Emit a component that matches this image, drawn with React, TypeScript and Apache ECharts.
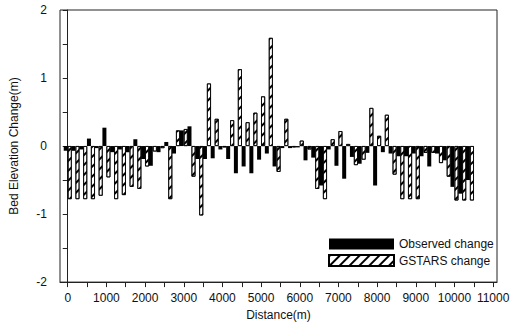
import React, { useEffect, useRef } from "react";
import * as echarts from "echarts";

const distances = [
  0, 200, 400, 600, 800, 1000, 1200, 1400, 1600, 1800,
  2000, 2200, 2400, 2600, 2800, 3000, 3200, 3400, 3600, 3800,
  4000, 4200, 4400, 4600, 4800, 5000, 5200, 5400, 5600, 5800,
  6000, 6200, 6400, 6600, 6800, 7000, 7200, 7400, 7600, 7800,
  8000, 8200, 8400, 8600, 8800, 9000, 9200, 9400, 9600, 9800,
  10000, 10200, 10400,
];

const observedChange = [
  -0.07, -0.07, -0.05, 0.11, -0.03, 0.27, -0.09, -0.05, -0.09, 0.1,
  -0.19, -0.29, -0.09, 0.06, -0.11, 0.23, 0.29, -0.19, -0.19, -0.18,
  -0.05, -0.19, -0.4, -0.3, -0.4, -0.2, -0.11, -0.3, -0.03, -0.03,
  -0.02, -0.21, -0.17, -0.58, -0.05, -0.29, -0.48, -0.16, -0.26, -0.1,
  -0.58, -0.09, -0.11, -0.15, -0.15, -0.11, -0.15, -0.3, -0.11, -0.21,
  -0.6, -0.7, -0.5,
];

const gstarsChange = [
  -0.78, -0.78, -0.78, -0.78, -0.73, -0.46, -0.78, -0.72, -0.6, -0.63,
  -0.3, -0.08, -0.03, -0.78, 0.23, 0.25, -0.45, -1.02, 0.92, 0.4,
  -0.02, 0.38, 1.13, 0.35, 0.49, 0.73, 1.59, -0.38, 0.4, -0.02,
  0.08, -0.05, -0.63, -0.78, 0.1, 0.22, 0.03, -0.28, -0.2, 0.56,
  0.15, 0.46, -0.42, -0.78, -0.78, -0.78, -0.1, -0.1, -0.25, -0.45,
  -0.8, -0.8, -0.8,
];

const xTickValues = [
  0, 500, 1000, 1500, 2000, 2500, 3000, 3500, 4000, 4500, 5000, 5500,
  6000, 6500, 7000, 7500, 8000, 8500, 9000, 9500, 10000, 10500, 11000,
];
const xLabelValues = [0, 1000, 2000, 3000, 4000, 5000, 6000, 7000, 8000, 9000, 10000, 11000];
const yTickValues = [-2, -1.5, -1, -0.5, 0, 0.5, 1, 1.5, 2];
const yLabelValues = [-2, -1, 0, 1, 2];

const FONT = "Liberation Sans";

export default function App() {
  const ref = useRef<HTMLDivElement>(null);

  useEffect(() => {
    const chart = echarts.init(ref.current!, null, { renderer: "svg" });
    const hatch = {
      symbol: "rect",
      symbolSize: 1,
      color: "#000",
      backgroundColor: "#fff",
      dashArrayX: [1, 0],
      dashArrayY: [1.4, 5],
      rotation: -Math.PI / 4,
    };
    chart.setOption({
      animation: false,
      backgroundColor: "#fff",
      textStyle: { fontFamily: FONT },
      grid: {
        left: 59,
        right: 28,
        top: 10,
        bottom: 43,
        show: true,
        borderColor: "#222",
        borderWidth: 1,
        containLabel: false,
      },
      legend: {
        orient: "vertical",
        left: 323,
        top: 233,
        itemWidth: 65,
        itemHeight: 11,
        itemGap: 4,
        icon: "rect",
        textStyle: { fontFamily: FONT, fontSize: 12, color: "#111" },
        data: ["Observed change", "GSTARS change"],
      },
      xAxis: {
        type: "value",
        min: -200,
        max: 11100,
        name: "Distance(m)",
        nameLocation: "middle",
        nameGap: 26,
        nameTextStyle: { fontFamily: FONT, fontSize: 12, color: "#111" },
        axisLine: { onZero: false, lineStyle: { color: "#222", width: 1 } },
        axisTick: {
          show: true,
          length: 5,
          customValues: xTickValues,
          lineStyle: { color: "#222" },
        },
        axisLabel: {
          customValues: xLabelValues,
          formatter: (v: number) => String(v),
          fontFamily: FONT,
          fontSize: 12,
          color: "#111",
          margin: 10,
        },
        splitLine: { show: false },
      },
      yAxis: {
        type: "value",
        min: -2,
        max: 2,
        name: "Bed Elevation Change(m)",
        nameLocation: "middle",
        nameGap: 40,
        nameTextStyle: { fontFamily: FONT, fontSize: 12, color: "#111" },
        axisLine: { show: true, lineStyle: { color: "#222", width: 1 } },
        axisTick: {
          show: true,
          length: 5,
          customValues: yTickValues,
          lineStyle: { color: "#222" },
        },
        axisLabel: {
          customValues: yLabelValues,
          formatter: (v: number) => String(v),
          fontFamily: FONT,
          fontSize: 12,
          color: "#111",
          margin: 13,
        },
        splitLine: { show: false },
      },
      series: [
        {
          name: "Observed change",
          type: "bar",
          barWidth: 4,
          barGap: "0%",
          itemStyle: { color: "#000" },
          data: distances.map((d, i) => [d, observedChange[i]]),
        },
        {
          name: "GSTARS change",
          type: "bar",
          barWidth: 4,
          barGap: "0%",
          itemStyle: {
            color: "#fff",
            borderColor: "#000",
            borderWidth: 0.8,
            decal: hatch,
          },
          data: distances.map((d, i) => [d, gstarsChange[i]]),
        },
      ],
    });
    return () => chart.dispose();
  }, []);

  return (
    <div
      ref={ref}
      style={{ position: "absolute", left: 0, top: 0, width: 525, height: 326 }}
    />
  );
}
